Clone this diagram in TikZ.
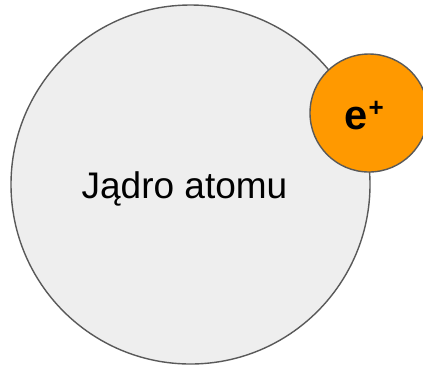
\documentclass[tikz,border=0pt]{standalone}
\usepackage{fontspec}
\setmainfont{Liberation Sans}
\definecolor{nucleusgray}{HTML}{EEEEEE}
\definecolor{edgegray}{HTML}{595959}
\definecolor{positronorange}{HTML}{FF9900}
\tikzset{
  particle/.style={circle, draw=edgegray, line width=0.7pt, inner sep=0pt, outer sep=0pt},
}
\begin{document}
\begin{tikzpicture}[x=0.5pt, y=-0.5pt]
  \useasboundingbox (0,0) rectangle (423,366);
  \clip (0,0) rectangle (423,366);
  % atomic nucleus
  \node[particle, fill=nucleusgray, minimum size=179.5pt] (nucleus) at (190.5,184.5) {};
  \node[anchor=base, inner sep=0pt, font=\fontsize{18.5}{22}\selectfont] (nucleuslabel) at (184.5,198) {Jądro atomu};
  % positron touching the nucleus
  \node[particle, fill=positronorange, minimum size=59pt] (positron) at (369,113) {};
  \node[anchor=base west, inner sep=0pt, font=\fontsize{20.8}{25}\bfseries] (positronlabel) at (344.5,129.3) {e\kern0.3pt\raisebox{6.5pt}{\fontsize{13}{15}\selectfont +}};
\end{tikzpicture}
\end{document}
